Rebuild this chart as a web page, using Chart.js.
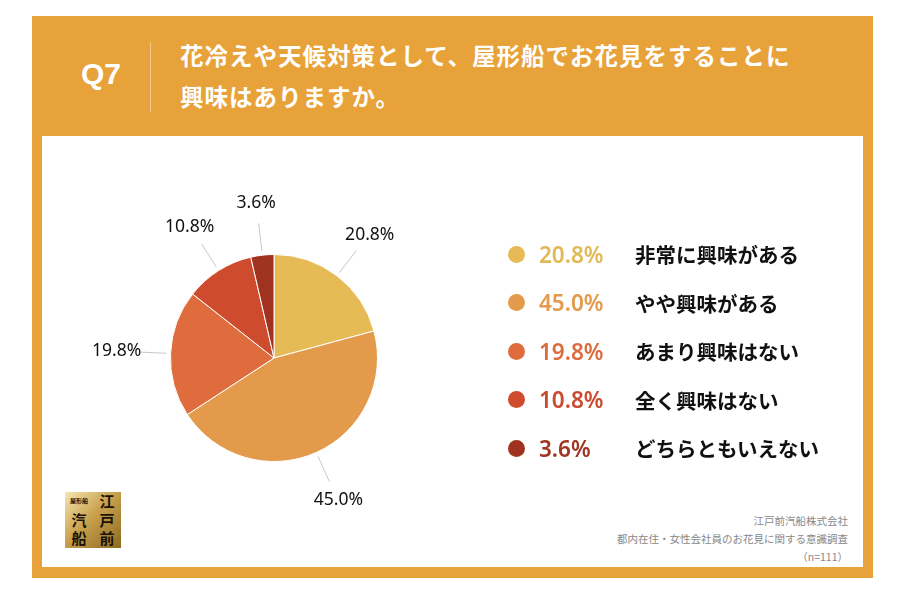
<!DOCTYPE html>
<html lang="ja">
<head>
<meta charset="utf-8">
<script src="https://cdn.jsdelivr.net/npm/chart.js@4.4.1/dist/chart.umd.min.js"></script>
<style>
  html, body { margin: 0; padding: 0; background: #fff; }
  body { width: 900px; height: 600px; position: relative; overflow: hidden;
         font-family: "Noto Sans CJK JP", "Noto Sans", sans-serif; }
  #frame { position: absolute; left: 32px; top: 16px; width: 841px; height: 562px; background: #E8A23A; }
  #panel { position: absolute; left: 42px; top: 136px; width: 821px; height: 431px; background: #fff; }
  #q { position: absolute; left: 64px; top: 57px; width: 74px; text-align: center;
       color: #fff; font: bold 30px "Liberation Sans", Arial, sans-serif; }
  #divider { position: absolute; left: 150px; top: 42px; width: 1px; height: 70px; background: #F3C98A; }
  #title { position: absolute; left: 180px; top: 35px; color: #fff; font-weight: bold;
           font-size: 23.5px; line-height: 41px; letter-spacing: 1px; }
  #chartWrap { position: absolute; left: 0; top: 0; width: 900px; height: 600px; }
  #legend { position: absolute; left: 508px; top: 230px; }
  .row { height: 48.5px; display: flex; align-items: center; position: relative; }
  .dot { width: 17px; height: 17px; border-radius: 50%; margin-right: 14px; }
  .pct { width: 96px; font: 600 22.5px "Noto Sans", sans-serif; }
  .lab { font-weight: bold; font-size: 20.5px; color: #111; }
  #note { position: absolute; right: 52px; top: 512px; text-align: right; color: #888;
          font-size: 10.5px; line-height: 18px; }
  #logo { position: absolute; left: 65px; top: 492px; width: 56px; height: 56px;
          background: linear-gradient(135deg, #f6e6b4 0%, #c9a24e 45%, #8d6a22 100%);
          display: grid; grid-template-columns: 1fr 1fr; grid-template-rows: 1fr 1fr 1fr;
          font-weight: bold; font-size: 15px; color: #1a1207; text-align: center; line-height: 18px; }
  #logo .s { font-size: 6px; line-height: 18px; }
</style>
</head>
<body>
<div id="frame"></div>
<div id="panel"></div>
<div id="q">Q7</div>
<div id="divider"></div>
<div id="title">花冷えや天候対策として、屋形船でお花見をすることに<br>興味はありますか。</div>
<div id="logo">
  <div class="s">屋形船</div><div>江</div>
  <div>汽</div><div>戸</div>
  <div>船</div><div>前</div>
</div>
<div id="note">江戸前汽船株式会社<br>都内在住・女性会社員のお花見に関する意識調査<br>（n=111）</div>
<div id="chartWrap"><canvas id="pie" width="900" height="600"></canvas></div>
<div id="legend"></div>

<script>
const categories = ["非常に興味がある", "やや興味がある", "あまり興味はない", "全く興味はない", "どちらともいえない"];
const shares = [20.8, 45.0, 19.8, 10.8, 3.6];
const sliceColors = ["#E6BA55", "#E39A4A", "#DE6C3C", "#CF4B2E", "#A03320"];
const pctColors = ["#E2B957", "#E39A4A", "#DD6B3D", "#CC4A30", "#A03522"];

// legend rows
let legend = document.querySelector("#legend");
categories.forEach((cat, i) => {
    let row = document.createElement("div");
    row.className = "row";
    row.innerHTML = `<div class="dot" style="background:${sliceColors[i]}"></div>` +
        `<div class="pct" style="color:${pctColors[i]}">${shares[i].toFixed(1)}%</div>` +
        `<div class="lab">${cat}</div>`;
    legend.appendChild(row);
});

// outside labels with leader lines
const outsideLabels = {
    id: "outsideLabels",
    afterDatasetsDraw(chart) {
        const ctx = chart.ctx;
        const arcs = chart.getDatasetMeta(0).data;
        ctx.save();
        arcs.forEach((arc, i) => {
            const { x, y, startAngle, endAngle, outerRadius } = arc.getProps(["x", "y", "startAngle", "endAngle", "outerRadius"], true);
            const mid = (startAngle + endAngle) / 2;
            const cos = Math.cos(mid), sin = Math.sin(mid);
            ctx.strokeStyle = "#c8c8c8";
            ctx.lineWidth = 1;
            ctx.beginPath();
            ctx.moveTo(x + cos * (outerRadius + 4), y + sin * (outerRadius + 4));
            ctx.lineTo(x + cos * (outerRadius + 32), y + sin * (outerRadius + 32));
            ctx.stroke();
            ctx.fillStyle = "#111";
            ctx.font = "17.5px 'Noto Sans', sans-serif";
            ctx.textAlign = "center";
            ctx.textBaseline = "middle";
            ctx.fillText(shares[i].toFixed(1) + "%", x + cos * (outerRadius + 54), y + sin * (outerRadius + 52));
        });
        ctx.restore();
    }
};

new Chart(document.getElementById("pie").getContext("2d"), {
    type: "pie",
    data: {
        labels: categories,
        datasets: [{ data: shares, backgroundColor: sliceColors, borderColor: "#fff", borderWidth: 1 }]
    },
    options: {
        responsive: false,
        animation: false,
        layout: { padding: { left: 170, right: 522, top: 254, bottom: 138 } },
        plugins: { legend: { display: false }, tooltip: { enabled: false } }
    },
    plugins: [outsideLabels]
});
</script>
</body>
</html>
